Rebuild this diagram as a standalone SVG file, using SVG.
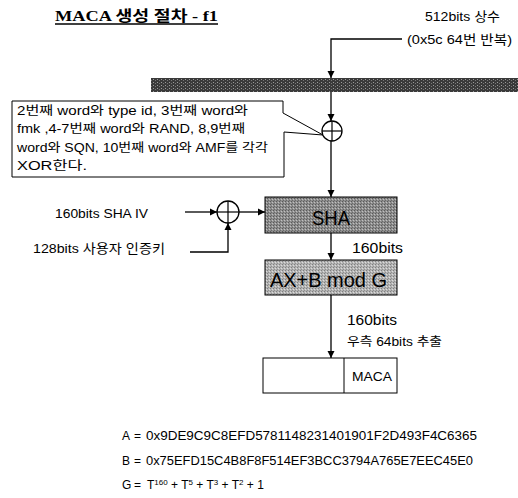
<svg xmlns="http://www.w3.org/2000/svg" width="518" height="498" viewBox="0 0 518 498">
<style>
.t{font-family:"Liberation Sans","Noto Sans CJK KR",sans-serif;fill:#000}
.ln{fill:none;stroke:#000;stroke-width:1.3}
.box{stroke:#000;stroke-width:1}
.xor{fill:#fff;stroke:#000;stroke-width:1.3}
</style>
<defs>
<marker id="ah" markerWidth="8" markerHeight="8" refX="7" refY="4" orient="auto" markerUnits="userSpaceOnUse">
<path d="M0,0.5 L7,4 L0,7.5 Z" fill="#000"/>
</marker>
<pattern id="pDark" width="4" height="3" patternUnits="userSpaceOnUse">
<rect width="4" height="3" fill="#3a3a3a"/>
<rect x="1" y="1" width="1" height="1" fill="#9a9a9a"/>
<rect x="3" y="2" width="1" height="1" fill="#777"/>
</pattern>
<pattern id="pMid" width="3" height="3" patternUnits="userSpaceOnUse">
<rect width="3" height="3" fill="#8e8e8e"/>
<rect x="0" y="0" width="1" height="1" fill="#5a5a5a"/>
<rect x="2" y="1" width="1" height="1" fill="#c0c0c0"/>
<rect x="1" y="2" width="1" height="1" fill="#6a6a6a"/>
</pattern>
<pattern id="pLight" width="3" height="3" patternUnits="userSpaceOnUse">
<rect width="3" height="3" fill="#b4b4b4"/>
<rect x="0" y="0" width="1" height="1" fill="#808080"/>
<rect x="2" y="1" width="1" height="1" fill="#dcdcdc"/>
<rect x="1" y="2" width="1" height="1" fill="#909090"/>
</pattern>
</defs>

<g id="title">
<text x="55" y="21" font-family="'Liberation Serif','Noto Sans CJK KR',serif" font-weight="bold" font-size="14.5" textLength="163" lengthAdjust="spacingAndGlyphs">MACA 생성 절차 - f1</text>
<line x1="55" y1="24" x2="218" y2="24" stroke="#000" stroke-width="1.3"/>
</g>

<g id="const-label">
<text class="t" x="425" y="21" font-size="13" textLength="75" lengthAdjust="spacingAndGlyphs">512bits 상수</text>
<text class="t" x="407" y="44" font-size="13" textLength="105" lengthAdjust="spacingAndGlyphs">(0x5c 64번 반복)</text>
</g>

<g id="bar">
<rect x="151" y="78" width="367" height="14" fill="url(#pDark)"/>
</g>

<g id="callout">
<path d="M12,101 H283 V113 L323,135 L284,132 V177 H12 Z" fill="#fff" stroke="#000" stroke-width="1"/>
<text class="t" x="17" y="115" font-size="12.5" textLength="231" lengthAdjust="spacingAndGlyphs">2번째 word와 type id, 3번째 word와</text>
<text class="t" x="17" y="133" font-size="12.5" textLength="228" lengthAdjust="spacingAndGlyphs">fmk ,4-7번째 word와 RAND, 8,9번째</text>
<text class="t" x="17" y="152" font-size="12.5" textLength="251" lengthAdjust="spacingAndGlyphs">word와 SQN, 10번째 word와 AMF를 각각</text>
<text class="t" x="17" y="170" font-size="12.5" textLength="70" lengthAdjust="spacingAndGlyphs">XOR한다.</text>
</g>

<g id="xor1">
<circle class="xor" cx="332" cy="131" r="10"/>
<line x1="322" y1="131" x2="342" y2="131" stroke="#000" stroke-width="1.2"/>
<line x1="332" y1="121" x2="332" y2="141" stroke="#000" stroke-width="1.2"/>
</g>

<g id="inputs">
<text class="t" x="55" y="218" font-size="13" textLength="93" lengthAdjust="spacingAndGlyphs">160bits SHA IV</text>
<text class="t" x="33" y="253" font-size="13" textLength="132" lengthAdjust="spacingAndGlyphs">128bits 사용자 인증키</text>
</g>

<g id="xor2">
<circle class="xor" cx="228" cy="212" r="11"/>
<line x1="217" y1="212" x2="239" y2="212" stroke="#000" stroke-width="1.2"/>
<line x1="228" y1="201" x2="228" y2="223" stroke="#000" stroke-width="1.2"/>
</g>

<g id="sha">
<rect class="box" x="265" y="197" width="132" height="36" fill="url(#pMid)"/>
<text class="t" x="312" y="225" font-size="21" textLength="38" lengthAdjust="spacingAndGlyphs" fill="#111">SHA</text>
</g>

<g id="axb">
<rect class="box" x="265" y="260" width="132" height="35" fill="url(#pLight)"/>
<text class="t" x="270" y="287" font-size="20" textLength="117" lengthAdjust="spacingAndGlyphs">AX+B mod G</text>
</g>

<g id="maca">
<rect class="box" x="263" y="358" width="134" height="35" fill="#fff"/>
<line x1="344" y1="358" x2="344" y2="393" stroke="#000" stroke-width="1"/>
<text class="t" x="352" y="381" font-size="13" textLength="40" lengthAdjust="spacingAndGlyphs">MACA</text>
</g>

<g id="connectors">
<path class="ln" d="M402,39 H331 V78" marker-end="url(#ah)"/>
<path class="ln" d="M331,92 V121" marker-end="url(#ah)"/>
<path class="ln" d="M331,141 V197" marker-end="url(#ah)"/>
<path class="ln" d="M185,212 H217" marker-end="url(#ah)"/>
<path class="ln" d="M239,212 H265" marker-end="url(#ah)"/>
<path class="ln" d="M190,252 H228 V223" marker-end="url(#ah)"/>
<path class="ln" d="M331,233 V260" marker-end="url(#ah)"/>
<path class="ln" d="M331,295 V358" marker-end="url(#ah)"/>
</g>

<g id="labels">
<text class="t" x="352" y="253" font-size="14" textLength="51" lengthAdjust="spacingAndGlyphs">160bits</text>
<text class="t" x="347" y="325" font-size="14" textLength="50" lengthAdjust="spacingAndGlyphs">160bits</text>
<text class="t" x="347" y="346" font-size="12.5" textLength="95" lengthAdjust="spacingAndGlyphs">우측 64bits 추출</text>
</g>

<g id="equations">
<text class="t" x="122" y="440" font-size="12">A</text>
<text class="t" x="134" y="440" font-size="12">=</text>
<text class="t" x="146" y="440" font-size="12" textLength="331" lengthAdjust="spacingAndGlyphs">0x9DE9C9C8EFD5781148231401901F2D493F4C6365</text>
<text class="t" x="122" y="465" font-size="12">B</text>
<text class="t" x="134" y="465" font-size="12">=</text>
<text class="t" x="146" y="465" font-size="12" textLength="327" lengthAdjust="spacingAndGlyphs">0x75EFD15C4B8F8F514EF3BCC3794A765E7EEC45E0</text>
<text class="t" x="122" y="489" font-size="12">G</text>
<text class="t" x="134" y="489" font-size="12">=</text>
<text class="t" x="147" y="489" font-size="12">T<tspan font-size="8" dy="-4">160</tspan><tspan dy="4"> + T</tspan><tspan font-size="8" dy="-4">5</tspan><tspan dy="4"> + T</tspan><tspan font-size="8" dy="-4">3</tspan><tspan dy="4"> + T</tspan><tspan font-size="8" dy="-4">2</tspan><tspan dy="4"> + 1</tspan></text>
</g>
</svg>
